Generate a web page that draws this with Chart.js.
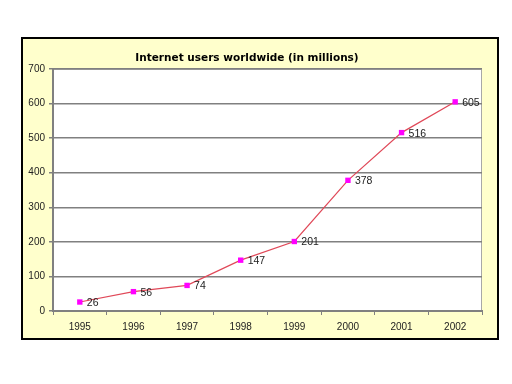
<!DOCTYPE html>
<html>
<head>
<meta charset="utf-8">
<script src="https://cdn.jsdelivr.net/npm/chart.js@4"></script>
<style>
  html, body { margin: 0; padding: 0; background: #ffffff; }
  #wrap { width: 512px; height: 384px; }
</style>
</head>
<body>
<div id="wrap"><canvas id="usersChart" width="512" height="384"></canvas></div>
<script>
// Data
const years = ['1995', '1996', '1997', '1998', '1999', '2000', '2001', '2002'];
const users = [26, 56, 74, 147, 201, 378, 516, 605];
const yTicks = [0, 100, 200, 300, 400, 500, 600, 700];
const chartTitle = 'Internet users worldwide (in millions)';

// Frame, plot background, title and value labels
const framePlugin = {
    id: 'frame',
    beforeDraw(chart) {
        const c = chart.ctx;
        const area = chart.chartArea;
        c.save();
        c.fillStyle = '#FFFFCC';
        c.fillRect(22, 38, 476, 301);
        c.lineWidth = 2;
        c.strokeStyle = '#000000';
        c.strokeRect(22, 38, 476, 301);
        c.fillStyle = '#FFFFFF';
        c.fillRect(area.left, area.top, area.right - area.left, area.bottom - area.top);
        c.lineWidth = 1;
        c.strokeStyle = '#A8A8A8';
        c.strokeRect(area.left + 0.5, area.top + 0.5, area.right - area.left - 1, area.bottom - area.top);
        c.fillStyle = '#000000';
        c.font = 'bold 10.5px "DejaVu Sans"';
        c.textAlign = 'center';
        c.textBaseline = 'middle';
        c.fillText(chartTitle, 247, 58);
        c.restore();
    },
    afterDatasetsDraw(chart) {
        const c = chart.ctx;
        const meta = chart.getDatasetMeta(0);
        c.save();
        c.fillStyle = '#222222';
        c.font = '10.5px "Liberation Sans"';
        c.textAlign = 'left';
        c.textBaseline = 'middle';
        meta.data.forEach((pt, i) => {
            c.fillText(String(users[i]), pt.x + 7, pt.y + 1);
        });
        c.restore();
    }
};

const ctx = document.getElementById('usersChart').getContext('2d');
const usersChart = new Chart(ctx, {
    type: 'line',
    data: {
        labels: years,
        datasets: [{
            data: users,
            borderColor: '#E04858',
            borderWidth: 1.2,
            pointStyle: 'rect',
            pointRadius: 3.8,
            pointBackgroundColor: '#FF00FF',
            pointBorderColor: '#FF00FF',
            pointBorderWidth: 0,
            tension: 0
        }]
    },
    options: {
        responsive: false,
        animation: false,
        layout: { padding: { left: 23, top: 69, right: 30, bottom: 45 } },
        plugins: {
            legend: { display: false },
            title: { display: false },
            tooltip: { enabled: false }
        },
        scales: {
            x: {
                offset: true,
                afterFit(scale) { scale.height = 28; },
                grid: {
                    offset: true,
                    drawOnChartArea: false,
                    tickLength: 4,
                    color: '#808080'
                },
                border: { color: '#808080', width: 2 },
                ticks: {
                    color: '#222222',
                    padding: 6,
                    maxRotation: 0,
                    font: { family: 'Liberation Sans', size: 10 }
                }
            },
            y: {
                min: 0,
                max: 700,
                afterFit(scale) { scale.width = 30; },
                afterBuildTicks(scale) {
                    scale.ticks = yTicks.map(v => ({ value: v }));
                },
                grid: {
                    color: '#808080',
                    lineWidth: 1.5,
                    tickLength: 4
                },
                border: { color: '#808080', width: 2 },
                ticks: {
                    color: '#222222',
                    padding: 4,
                    font: { family: 'Liberation Sans', size: 10 }
                }
            }
        }
    },
    plugins: [framePlugin]
});
</script>
</body>
</html>
